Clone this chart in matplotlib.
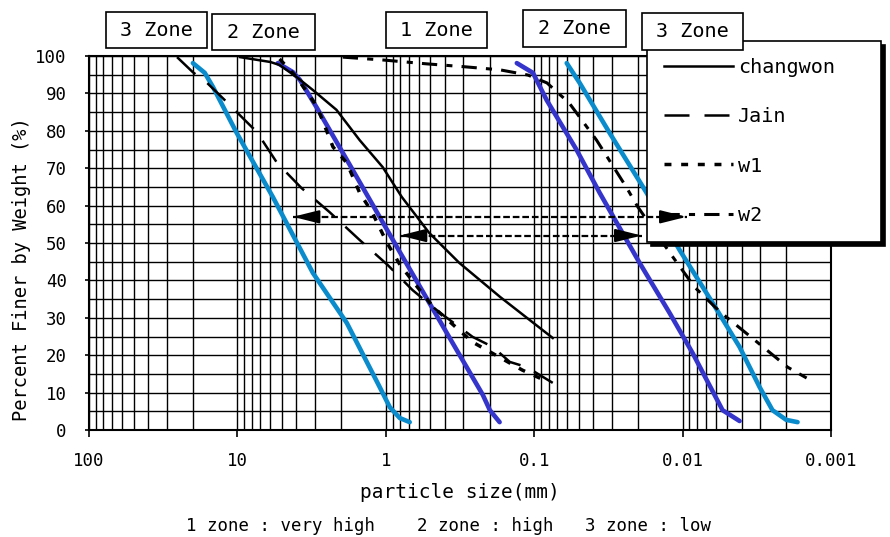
import numpy as np
import matplotlib
matplotlib.use('Agg')
import matplotlib.pyplot as plt
from matplotlib.ticker import LogLocator, NullFormatter, MultipleLocator
from matplotlib.patches import Rectangle

plt.rcParams['font.family'] = ['DejaVu Sans Mono', 'DejaVu Sans']

# ---------------- data (particle size mm, percent finer) ----------------
changwon_x = [9.6, 6.0, 5.2, 4.0, 3.1, 2.15, 1.5, 1.05, 0.78, 0.51, 0.32, 0.17, 0.075]
changwon_y = [99.7, 98.4, 97.6, 94.4, 90.9, 85.6, 77.5, 70.3, 62.3, 52.7, 44.7, 35.6, 24.6]

jain_x = [25.5, 20, 16, 11.8, 9.2, 7.4, 5.4, 3.7, 2.4, 1.5, 0.97, 0.66, 0.43, 0.26, 0.19, 0.146, 0.112, 0.075]
jain_y = [99.7, 95.7, 92.8, 87.7, 83.4, 79.7, 71.4, 64.7, 58.3, 50.8, 44.1, 37.4, 31.3, 24.9, 22.2, 18.2, 16.8, 12.6]

w1_x = [5.2, 4.0, 2.9, 2.27, 1.83, 1.5, 1.24, 0.98, 0.8, 0.59, 0.48, 0.26, 0.12, 0.08]
w1_y = [99.2, 94.4, 86.4, 75.7, 71.4, 63.4, 58.3, 50.0, 44.1, 37.4, 32.9, 23.5, 16.0, 12.8]

w2_x = [1.95, 1.02, 0.53, 0.29, 0.17, 0.11, 0.082, 0.058, 0.038, 0.024, 0.020, 0.0119,
        0.0083, 0.0056, 0.0034, 0.00196, 0.00146]
w2_y = [99.7, 98.9, 97.9, 97.1, 96.3, 94.9, 92.8, 87.4, 77.5, 65.0, 59.6, 46.8,
        38.2, 31.6, 24.6, 16.8, 13.9]

# zone boundary curves
blue1_x = [5.34, 4.23, 3.79, 2.91, 1.75, 0.805, 0.371, 0.222, 0.199, 0.171]
blue1_y = [98.1, 95.7, 93.6, 86.1, 70.9, 47.6, 24.6, 9.4, 5.3, 2.1]

blue2_x = [0.131, 0.102, 0.0824, 0.0518, 0.0362, 0.0195, 0.01224, 0.00857, 0.00538, 0.00413]
blue2_y = [98.1, 95.5, 88.2, 74.9, 63.4, 44.7, 31.3, 20.6, 5.3, 2.4]

cyan1_x = [19.95, 16.6, 14.6, 10.1, 5.77, 3.1, 1.83, 1.10, 0.94, 0.805, 0.69]
cyan1_y = [98.1, 95.5, 91.7, 79.4, 62.3, 42.0, 28.6, 11.5, 6.1, 3.2, 2.1]

cyan2_x = [0.0604, 0.0494, 0.031, 0.01747, 0.01047, 0.00628, 0.00413, 0.00303, 0.00248, 0.0020, 0.00168]
cyan2_y = [98.1, 92.8, 79.4, 63.4, 48.1, 34.0, 22.2, 11.5, 5.3, 2.7, 2.1]

# arrows (y level, left end, right end)
arrow_y = [57, 52]
arrow_left = [4.23, 0.805]
arrow_right = [0.0094, 0.0189]

x_ticks = [100, 10, 1, 0.1, 0.01, 0.001]
x_labels = ['100', '10', '1', '0.1', '0.01', '0.001']
y_ticks = list(range(0, 101, 10))

zone_labels = ['3 Zone', '2 Zone', '1 Zone', '2 Zone', '3 Zone']

# ---------------- figure ----------------
W, H = 890, 537
fig = plt.figure(figsize=(W / 100, H / 100), dpi=100)


def fx(px):
    return px / W


def fy(py):
    return 1 - py / H


ax = fig.add_axes([fx(89), fy(430), (831 - 89) / W, (430 - 56) / H])
ax.set_xscale('log')
ax.set_xlim(100, 0.001)
ax.set_ylim(0, 100)

ax.set_xticks(x_ticks, labels=x_labels)
ax.xaxis.set_minor_locator(LogLocator(base=10, subs=np.arange(2, 10), numticks=100))
ax.xaxis.set_minor_formatter(NullFormatter())
ax.set_yticks(y_ticks)
ax.yaxis.set_minor_locator(MultipleLocator(5))
ax.grid(which='both', color='black', lw=1.0)
ax.set_axisbelow(True)
ax.tick_params(axis='x', which='major', direction='out', length=5, width=1.2, pad=11, labelsize=12.5)
ax.tick_params(axis='y', which='major', direction='out', length=3, width=1.2, pad=13, labelsize=12.5)
ax.tick_params(which='minor', length=0)
for s in ax.spines.values():
    s.set_linewidth(1.5)
    s.set_color('black')

BLUE = '#3535cc'
CYAN = '#0a8bcc'
ax.plot(cyan1_x, cyan1_y, color=CYAN, lw=3.3, solid_capstyle='round', zorder=2)
ax.plot(cyan2_x, cyan2_y, color=CYAN, lw=3.3, solid_capstyle='round', zorder=2)
ax.plot(blue1_x, blue1_y, color=BLUE, lw=3.3, solid_capstyle='round', zorder=2)
ax.plot(blue2_x, blue2_y, color=BLUE, lw=3.3, solid_capstyle='round', zorder=2)

l_ch, = ax.plot(changwon_x, changwon_y, color='black', lw=1.8, label='changwon', zorder=3)
l_ja, = ax.plot(jain_x, jain_y, color='black', lw=1.8, ls=(0, (10, 6)), label='Jain', zorder=3)
l_w1, = ax.plot(w1_x, w1_y, color='black', lw=2.5, ls=(0, (2, 2.8)), label='w1', zorder=3)
l_w2, = ax.plot(w2_x, w2_y, color='black', lw=2.2, ls=(0, (5, 3, 2, 3)), label='w2', zorder=3)

ax.set_xlabel('particle size(mm)', fontsize=14)
ax.xaxis.label.set_verticalalignment('center')
ax.xaxis.set_label_coords(0.5, (430 - 493) / 374)
ax.set_ylabel('Percent Finer by Weight (%)', fontsize=13.5)
ax.yaxis.label.set_verticalalignment('center')
ax.yaxis.set_label_coords((22 - 89) / 742, (430 - 269) / 374)

leg = ax.legend(handles=[l_ch, l_ja, l_w1, l_w2], loc='upper left',
                bbox_to_anchor=(fx(647), fy(245), (881 - 647) / W, (245 - 41) / H),
                bbox_transform=fig.transFigure, mode='expand', borderaxespad=0,
                prop={'size': 14.5}, handlelength=3.4, handletextpad=0.25,
                labelspacing=1.5, borderpad=0.85, fancybox=False, framealpha=1,
                edgecolor='black', shadow={'ox': 3, 'oy': -3, 'color': 'black', 'alpha': 1})
leg.get_frame().set_linewidth(1.2)

# double arrows
for y, xl, xr in zip(arrow_y, arrow_left, arrow_right):
    ax.plot([xl, xr], [y, y], color='black', lw=1.6, ls=(0, (3, 1.3)), zorder=6)
    for tip, back in ((xl, xl / 1.4), (xr, xr * 1.4)):
        ax.annotate('', xy=(tip, y), xytext=(back, y),
                    arrowprops=dict(arrowstyle='-|>,head_length=1.6,head_width=0.4',
                                    color='black', lw=1.5, mutation_scale=10,
                                    shrinkA=0, shrinkB=0),
                    zorder=7)

# zone boxes at top
boxes = [(106, 12, 207, 48), (212, 14, 315, 50), (386, 12, 487, 48),
         (523, 10, 626, 47), (642, 13, 743, 50)]
for lab, (x0, y0, x1, y1) in zip(zone_labels, boxes):
    fig.add_artist(Rectangle((fx(x0), fy(y1)), (x1 - x0) / W, (y1 - y0) / H,
                             transform=fig.transFigure, fc='white', ec='black',
                             lw=1.2, zorder=10))
    fig.text(fx((x0 + x1) / 2), fy((y0 + y1) / 2), lab, ha='center', va='center',
             fontsize=14.5, zorder=11)

fig.text(fx(448), fy(526), '1 zone : very high    2 zone : high   3 zone : low',
         ha='center', va='center', fontsize=12.5)

fig.savefig('out.png', dpi=100)
